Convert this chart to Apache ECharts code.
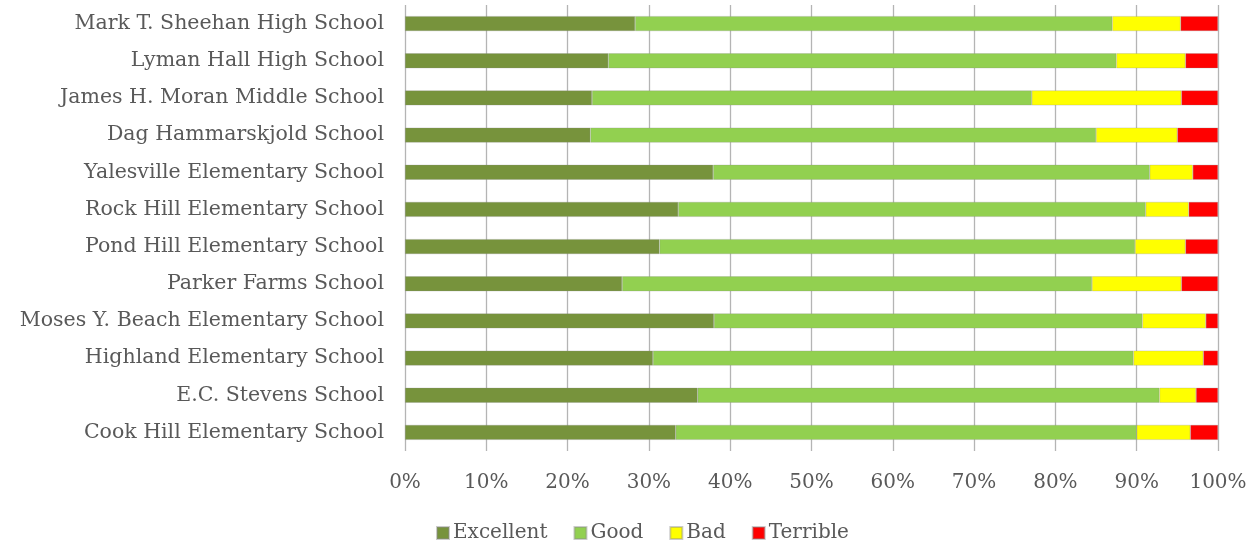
<!DOCTYPE html>
<html>
<head>
<meta charset="utf-8">
<script src="https://cdn.jsdelivr.net/npm/echarts@6/dist/echarts.min.js"></script>
<style>html,body{margin:0;padding:0;background:#fff;}#chart{width:1252px;height:541px;}</style>
</head>
<body>
<div id="chart"></div>
<script>
const schools = [
  "Mark T. Sheehan High School",
  "Lyman Hall High School",
  "James H. Moran Middle School",
  "Dag Hammarskjold School",
  "Yalesville Elementary School",
  "Rock Hill Elementary School",
  "Pond Hill Elementary School",
  "Parker Farms School",
  "Moses Y. Beach Elementary School",
  "Highland Elementary School",
  "E.C. Stevens School",
  "Cook Hill Elementary School"
];
const excellent = [28.3, 25.0, 23.0, 22.8, 37.9, 33.6, 31.3, 26.7, 38.0, 30.5, 36.0, 33.3];
const good      = [58.7, 62.5, 54.1, 62.2, 53.7, 57.5, 58.5, 57.8, 52.7, 59.1, 56.8, 56.7];
const bad       = [8.4, 8.5, 18.4, 10.0, 5.3, 5.3, 6.2, 11.0, 7.8, 8.6, 4.5, 6.6];
const terrible  = [4.6, 4.0, 4.5, 5.0, 3.1, 3.6, 4.0, 4.5, 1.5, 1.8, 2.7, 3.4];
const seriesNames = ["Excellent", "Good", "Bad", "Terrible"];
const seriesColors = ["#77933C", "#92D050", "#FFFF00", "#FF0000"];
const seriesData = [excellent, good, bad, terrible];

const FONT = "DejaVu Serif";
const chart = echarts.init(document.getElementById('chart'));
chart.setOption({
  animation: false,
  backgroundColor: '#ffffff',
  textStyle: { fontFamily: FONT, color: '#595959' },
  grid: { left: 405, right: 34, top: 5, bottom: 90, containLabel: false },
  legend: {
    data: seriesNames,
    left: 431, top: 518,
    icon: 'rect', itemWidth: 12, itemHeight: 12, itemGap: 26,
    textStyle: { fontFamily: FONT, fontSize: 20, color: '#595959', padding: [0, 0, 0, -1] }
  },
  xAxis: {
    type: 'value', min: 0, max: 100, interval: 10,
    axisLine: { show: false }, axisTick: { show: false },
    axisLabel: { formatter: '{value}%', fontFamily: FONT, fontSize: 20, color: '#595959', margin: 22 },
    splitLine: { show: true, lineStyle: { color: '#b4b4b4', width: 1.3 } }
  },
  yAxis: {
    type: 'category', data: schools, inverse: true,
    axisLine: { show: false }, axisTick: { show: false },
    axisLabel: { fontFamily: FONT, fontSize: 20.5, color: '#595959', margin: 21 }
  },
  series: seriesNames.map((n, i) => ({
    name: n, type: 'bar', stack: 'total', barWidth: 15,
    data: seriesData[i],
    itemStyle: { color: seriesColors[i], borderColor: 'rgba(140,140,140,0.45)', borderWidth: 0.6 }
  }))
});
</script>
</body>
</html>
